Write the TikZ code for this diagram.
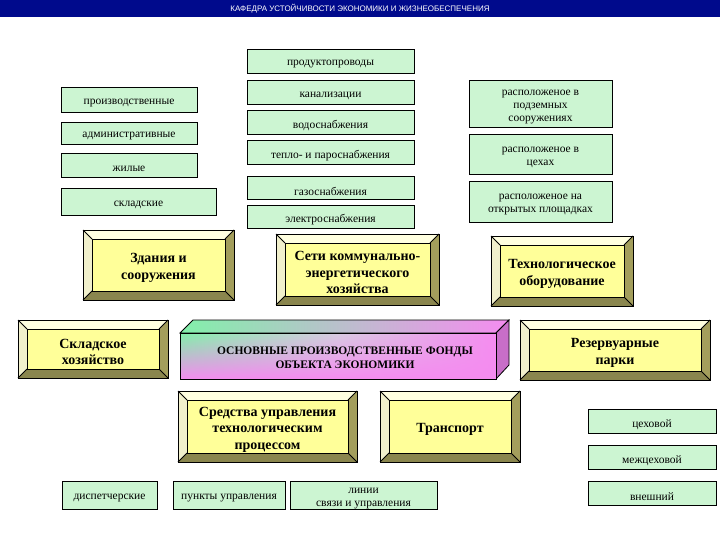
\documentclass[tikz,border=0pt]{standalone}
\usepackage{fontspec}
\usetikzlibrary{fadings}
\setmainfont{Liberation Serif}
\newfontfamily\titlefont{Liberation Sans}
\definecolor{gbox}{HTML}{CCF5D2}
\definecolor{ybox}{HTML}{FFFF99}
\definecolor{ylite}{HTML}{FFFFE0}
\definecolor{ydark}{HTML}{A39E5C}
\definecolor{navy}{HTML}{000A8C}
\definecolor{mgreen}{RGB}{130,240,170}
\definecolor{mpink}{RGB}{245,140,240}
\tikzset{
 gtext/.style={font=\fontsize{11.5}{13}\selectfont, align=center, inner sep=0pt, yshift=-3.5pt},
 btext/.style={font=\bfseries\fontsize{14}{16.5}\selectfont, align=center, inner sep=0pt, yshift=-3pt},
}
\newcommand\gbx[6]{% x1 y1 x2 y2 name text
 \draw[fill=gbox] (#1,#2) rectangle (#3,#4);
 \node[gtext] (#5) at ({(#1+#3)/2},{(#2+#4)/2}) {#6};}
\newcommand\bvx[6]{%
 \fill[ylite] (#1,#2) -- (#3,#2) -- (#3-9,#2+9) -- (#1+9,#2+9) -- cycle;
 \fill[ylite!85!ydark] (#1,#2) -- (#1+9,#2+9) -- (#1+9,#4-9) -- (#1,#4) -- cycle;
 \fill[ydark] (#3,#2) -- (#3,#4) -- (#3-9,#4-9) -- (#3-9,#2+9) -- cycle;
 \fill[ydark!85!black] (#1,#4) -- (#3,#4) -- (#3-9,#4-9) -- (#1+9,#4-9) -- cycle;
 \draw[fill=ybox] (#1+9,#2+9) rectangle (#3-9,#4-9);
 \draw (#1,#2) -- (#1+9,#2+9) (#3,#2) -- (#3-9,#2+9) (#1,#4) -- (#1+9,#4-9) (#3,#4) -- (#3-9,#4-9);
 \draw (#1,#2) rectangle (#3,#4);
 \node[btext] (#5) at ({(#1+#3)/2},{(#2+#4)/2}) {#6};}
\begin{document}
\begin{tikzpicture}[x=1pt,y=-1pt,line width=0.8pt]
\useasboundingbox (0,0) rectangle (720,540);
\fill[white] (0,0) rectangle (720,540);
\fill[navy] (0,0) rectangle (720,17);
\node[text=white, font=\titlefont\fontsize{8}{9}\selectfont] (title) at (360,8.5) {КАФЕДРА УСТОЙЧИВОСТИ ЭКОНОМИКИ И ЖИЗНЕОБЕСПЕЧЕНИЯ};
% green boxes
\gbx{247}{49}{414}{73}{g1}{продуктопроводы}
\gbx{247}{80}{414}{104}{g2}{канализации}
\gbx{247}{110}{414}{134}{g3}{водоснабжения}
\gbx{247}{140}{414}{164}{g4}{тепло- и пароснабжения}
\gbx{247}{176}{414}{199}{g5}{газоснабжения}
\gbx{247}{205}{414}{228}{g6}{электроснабжения}
\gbx{61}{87}{197}{112}{p1}{производственные}
\gbx{61}{122}{197}{144}{p2}{административные}
\gbx{61}{153}{197}{177}{p3}{жилые}
\gbx{61}{188}{216}{215}{p4}{складские}
\gbx{469}{80}{612}{127}{r1}{расположеное в\\подземных\\сооружениях}
\gbx{469}{134}{612}{174}{r2}{расположеное в\\цехах}
\gbx{469}{181}{612}{222}{r3}{расположеное на\\открытых площадках}
\gbx{62}{481}{157}{509}{d1}{диспетчерские}
\gbx{173}{481}{285}{509}{d2}{пункты управления}
\gbx{290}{481}{437}{509}{d3}{линии\\связи и управления}
\gbx{588}{409}{716}{433}{t1}{цеховой}
\gbx{588}{445}{716}{469}{t2}{межцеховой}
\gbx{588}{481}{716}{505}{t3}{внешний}
% bevel boxes
\bvx{83}{230}{234}{300}{b1}{Здания и\\сооружения}
\bvx{276}{234}{439}{305}{b2}{Сети коммунально-\\энергетического\\хозяйства}
\bvx{491}{236}{633}{306}{b3}{Технологическое\\оборудование}
\bvx{18}{320}{168}{378}{b4}{Складское\\хозяйство}
\bvx{520}{320}{710}{380}{b5}{Резервуарные\\парки}
\bvx{178}{391}{357}{462}{b6}{Средства управления\\технологическим\\процессом}
\bvx{380}{391}{520}{462}{b7}{Транспорт}
% main 3D box
\draw[left color=mgreen, right color=mpink] (180,333) -- (193,320) -- (509,320) -- (496,333) -- cycle;
\draw[fill={rgb,255:red,200;green,110;blue,200}] (496,333) -- (509,320) -- (509,365) -- (496,379) -- cycle;
\shade[left color=mgreen, right color=mpink, middle color=mpink!60!mgreen!70!white] (180,333) rectangle (496,379);
\fill[mpink, path fading=north] (180,333) rectangle (496,379);
\draw (180,333) rectangle (496,379);
\node[font=\bfseries\fontsize{11.5}{14}\selectfont, align=center] (main) at (345,358) {ОСНОВНЫЕ ПРОИЗВОДСТВЕННЫЕ ФОНДЫ\\ОБЪЕКТА ЭКОНОМИКИ};
\end{tikzpicture}
\end{document}
